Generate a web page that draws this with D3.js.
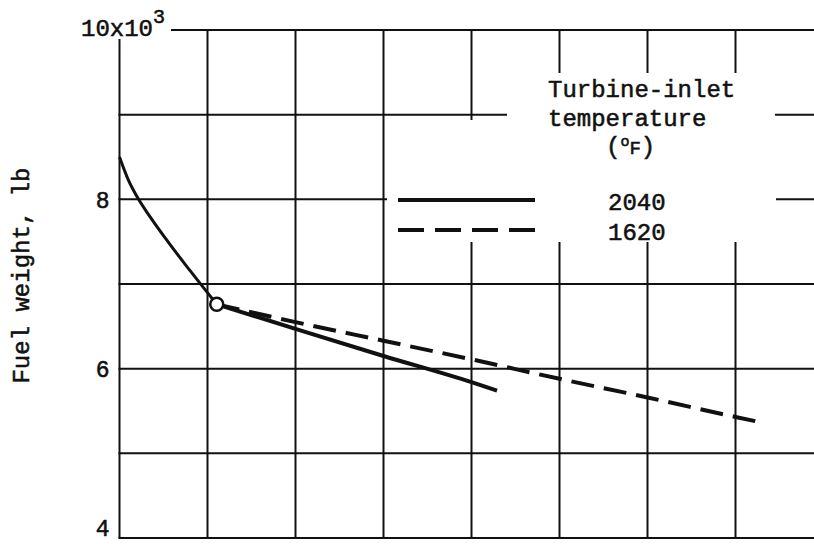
<!DOCTYPE html>
<html>
<head>
<meta charset="utf-8">
<script src="https://cdn.jsdelivr.net/npm/d3@7"></script>
<style>
  html, body { margin: 0; padding: 0; background: #fff; }
  svg { display: block; }
  text { font-family: "Liberation Mono", "Courier New", monospace; fill: #111; stroke: #111; stroke-width: 0.55px; }
</style>
</head>
<body>
<svg id="chart" width="814" height="544"></svg>
<script>
// grid positions (x has no labels in this crop)
const xGrid = [0, 1, 2, 3, 4, 5, 6, 7, 8]
const yGrid = [4, 5, 6, 7, 8, 9, 10]
const yLabels = [4, 6, 8]

// 2040 F curve: steep part from the axis down to the circle, then the straight run
const x2040 = [0, 0.1, 0.2, 0.35, 0.55, 0.8, 1.105, 2, 3, 4, 4.29]
const y2040 = [8.5, 8.23, 8.03, 7.79, 7.5, 7.16, 6.76, 6.47, 6.15, 5.84, 5.74]
const breakIndex = 6

// 1620 F curve (starts at the circle)
const x1620 = [1.105, 2, 3, 4, 5, 6, 7, 7.27]
const y1620 = [6.76, 6.55, 6.33, 6.11, 5.88, 5.66, 5.43, 5.37]

const startPoint = [1.105, 6.76]

const legendTitle = ["Turbine-inlet", "temperature"]
const seriesNames = ["2040", "1620"]

const svg = d3.select("#chart")

const x = d3.scaleLinear().domain([0, 8]).range([119.5, 823.5])
const y = d3.scaleLinear().domain([4, 10]).range([538, 30])

// Grid
const grid = svg.append("g").attr("stroke", "#111").attr("stroke-width", 2)

grid
  .selectAll("line.v")
  .data(xGrid)
  .join("line")
  .classed("v", true)
  .attr("x1", (d) => x(d))
  .attr("x2", (d) => x(d))
  .attr("y1", y(10))
  .attr("y2", y(4))

grid
  .selectAll("line.h")
  .data(yGrid)
  .join("line")
  .classed("h", true)
  .attr("x1", x(0) - 1)
  .attr("x2", 814)
  .attr("y1", (d) => y(d))
  .attr("y2", (d) => y(d))

// white knock-outs behind the top label and the legend
svg.append("rect").attr("x", 70).attr("y", 0).attr("width", 101).attr("height", 39).attr("fill", "#fff")
svg.append("rect").attr("x", 507).attr("y", 73).attr("width", 268).attr("height", 48).attr("fill", "#fff")
svg.append("rect").attr("x", 387).attr("y", 120).attr("width", 389).attr("height", 122).attr("fill", "#fff")

// Y axis labels
const yAxis = d3.axisLeft(y).tickValues(yLabels).tickSize(0).tickPadding(0).tickFormat(d3.format("d"))
svg
  .append("g")
  .attr("transform", `translate(${x(0) - 10}, 0)`)
  .call(yAxis)
  .call((g) => g.select(".domain").remove())
  .selectAll("text")
  .attr("font-family", null)
  .style("font-size", "23px")
  .attr("dy", (d) => (d === 4 ? "-0.1em" : "0.35em"))

const topLabel = svg.append("text").attr("x", 81).attr("y", y(10) + 6).style("font-size", "24px")
topLabel.append("tspan").text("10x10")
topLabel.append("tspan").attr("dy", -13).style("font-size", "20px").text("3")

svg
  .append("text")
  .attr("transform", `translate(29, ${y(7.1)}) rotate(-90)`)
  .attr("text-anchor", "middle")
  .style("font-size", "24px")
  .text("Fuel weight, lb")

// Legend
svg
  .append("g")
  .selectAll("text")
  .data(legendTitle)
  .join("text")
  .attr("x", 548)
  .attr("y", (d, i) => 97 + i * 29)
  .style("font-size", "24px")
  .text((d) => d)

const unit = svg.append("text").attr("x", 606).attr("y", 154).style("font-size", "24px")
unit.append("tspan").text("(")
unit.append("tspan").attr("dy", -8).style("font-size", "15px").text("o")
unit.append("tspan").attr("dy", 8).style("font-size", "19px").text("F")
unit.append("tspan").text(")")

const legendRows = svg
  .append("g")
  .selectAll("g")
  .data(seriesNames)
  .join("g")
  .attr("transform", (d, i) => `translate(0, ${200 + i * 30})`)

legendRows
  .append("line")
  .attr("x1", 398)
  .attr("x2", 535)
  .attr("stroke", "#111")
  .attr("stroke-width", 4)
  .attr("stroke-dasharray", (d, i) => (i === 0 ? null : "26 11"))

legendRows
  .append("text")
  .attr("x", 608)
  .attr("y", 10)
  .style("font-size", "24px")
  .text((d) => d)

// Curves
const line = d3
  .line()
  .x((d) => x(d[0]))
  .y((d) => y(d[1]))
  .curve(d3.curveMonotoneX)

const pts2040 = d3.zip(x2040, y2040)

svg
  .append("path")
  .attr("d", line(d3.zip(x1620, y1620)))
  .attr("fill", "none")
  .attr("stroke", "#111")
  .attr("stroke-width", 4)
  .attr("stroke-dasharray", "23 10")

svg
  .selectAll("path.solid")
  .data([pts2040.slice(0, breakIndex + 1), pts2040.slice(breakIndex)])
  .join("path")
  .classed("solid", true)
  .attr("d", (d) => line(d))
  .attr("fill", "none")
  .attr("stroke", "#111")
  .attr("stroke-width", (d, i) => (i === 0 ? 3 : 4))

svg
  .append("circle")
  .attr("cx", x(startPoint[0]))
  .attr("cy", y(startPoint[1]))
  .attr("r", 6.5)
  .attr("fill", "#fff")
  .attr("stroke", "#111")
  .attr("stroke-width", 2.5)
</script>
</body>
</html>
